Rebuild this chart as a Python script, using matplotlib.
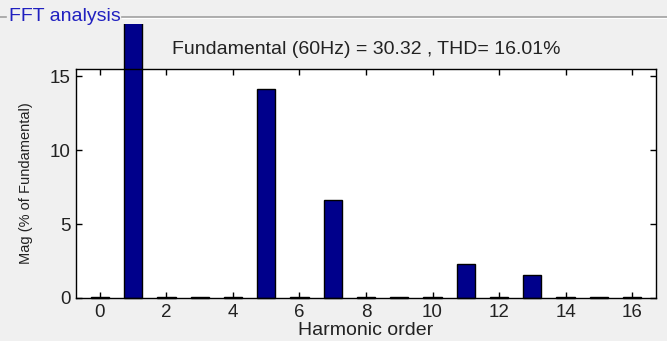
import matplotlib
matplotlib.use("Agg")
import matplotlib.pyplot as plt
from matplotlib.patches import Rectangle
from matplotlib.lines import Line2D

plt.rcParams['font.family'] = ['Liberation Sans', 'DejaVu Sans']

# Harmonic spectrum, magnitude in % of fundamental
harmonics = list(range(0, 17))
magnitude = [0.08, 100.0, 0.08, 0.04, 0.08, 14.15, 0.08, 6.65, 0.08, 0.04,
             0.08, 2.3, 0.08, 1.55, 0.08, 0.04, 0.08]
xticks = [0, 2, 4, 6, 8, 10, 12, 14, 16]
yticks = [0, 5, 10, 15]
title_text = "FFT analysis"
info_text = "Fundamental (60Hz) = 30.32 , THD= 16.01%"

W, H = 667, 341
fig = plt.figure(figsize=(W / 100, H / 100), dpi=100, facecolor='#f0f0f0')

# axes box in pixels: left 76, right 656, top 69, bottom 298
ax = fig.add_axes([76 / W, 1 - 298 / H, (656 - 76) / W, (298 - 69) / H])
ax.set_facecolor('white')

bars = ax.bar(harmonics, magnitude, width=0.55, color='#00008b',
              edgecolor='black', linewidth=1.0)

# bars may rise above the axes, up to the group frame
clip = Rectangle((0, 0), 1, 1 - 24 / H, transform=fig.transFigure,
                 facecolor='none', edgecolor='none')
fig.add_artist(clip)
for b in bars:
    b.set_clip_path(clip)

ax.set_xlim(-0.72, 16.72)
ax.set_ylim(0, 15.5)
ax.set_xticks(xticks)
ax.set_yticks(yticks)
ax.tick_params(direction='in', length=4, width=1, labelsize=13.5,
               top=True, right=True, colors='black', pad=4)
for lab in ax.get_xticklabels() + ax.get_yticklabels():
    lab.set_color('#222222')
for s in ax.spines.values():
    s.set_linewidth(1.0)

ax.set_xlabel("Harmonic order", fontsize=14, labelpad=1, color='#222222')
ax.set_ylabel("Mag (% of Fundamental)", fontsize=10.5, labelpad=12,
              color='#222222')

ax.text(0.5, 1 + 20 / 229, info_text, transform=ax.transAxes, ha='center',
        va='center', fontsize=14, color='#222222')

# group frame with title
y_line = 1 - 16.5 / H
fig.add_artist(Line2D([0, 6 / W], [y_line, y_line], transform=fig.transFigure,
                      color='#a0a0a0', lw=1.2))
fig.add_artist(Line2D([122 / W, 1], [y_line, y_line], transform=fig.transFigure,
                      color='#a0a0a0', lw=1.2))
fig.add_artist(Line2D([122 / W, 1], [y_line - 1.2 / H, y_line - 1.2 / H],
                      transform=fig.transFigure, color='white', lw=0.8))
fig.text(9 / W, y_line, title_text, ha='left', va='center', fontsize=14,
         color='#2020c0')

fig.savefig("out.png", dpi=100, facecolor=fig.get_facecolor())
